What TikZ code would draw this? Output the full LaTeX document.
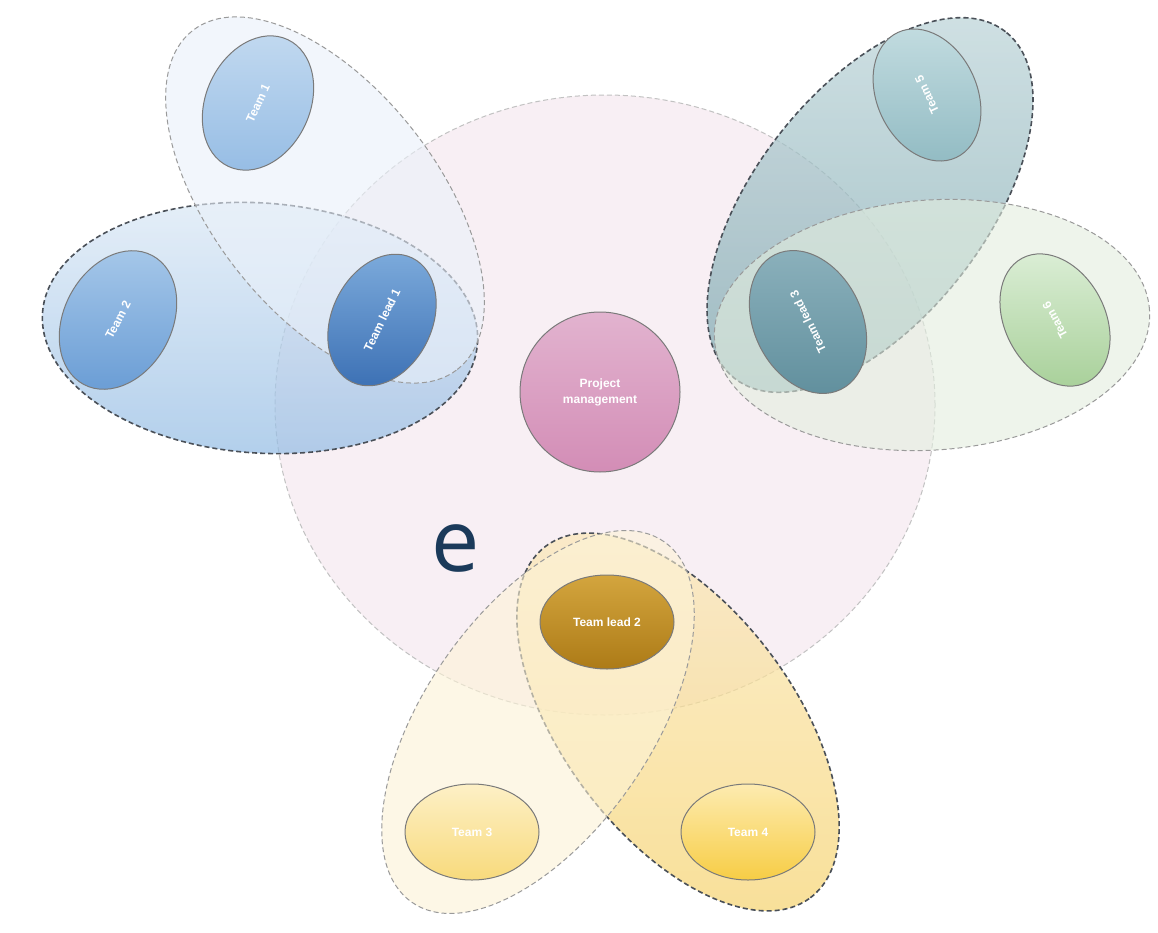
\documentclass[tikz,border=0pt]{standalone}
\usepackage{fontspec}
\setmainfont{Liberation Sans}
\newfontfamily\bigfont{Open Sans}
\usetikzlibrary{shapes.geometric}
\definecolor{pinkbg}{HTML}{F8EFF4}
\definecolor{dashgray}{HTML}{9A9A9A}
\definecolor{darkdash}{HTML}{4A5058}
\definecolor{navy}{HTML}{1B3A5A}
\definecolor{memb}{HTML}{7A7A7A}
% group fills
\definecolor{bBtop}{HTML}{DCE9F6}
\definecolor{bBbot}{HTML}{93BCE4}
\definecolor{bA}{HTML}{EAF1FA}
\definecolor{tCtop}{HTML}{BFD6DA}
\definecolor{tCbot}{HTML}{7AA6AE}
\definecolor{gD}{HTML}{E3EEDF}
\definecolor{yFtop}{HTML}{FBE9BC}
\definecolor{yFbot}{HTML}{F6D26A}
\definecolor{yE}{HTML}{FDF3D6}
% members
\definecolor{pmtop}{HTML}{E2B3CF}
\definecolor{pmbot}{HTML}{D38DB6}
\definecolor{t1top}{HTML}{C3DAF0}
\definecolor{t1bot}{HTML}{98BEE5}
\definecolor{t2top}{HTML}{A8C9EA}
\definecolor{t2bot}{HTML}{6D9FD6}
\definecolor{tl1top}{HTML}{7FADDD}
\definecolor{tl1bot}{HTML}{3F73B6}
\definecolor{t5top}{HTML}{C4DDE1}
\definecolor{t5bot}{HTML}{90BAC2}
\definecolor{tl3top}{HTML}{8DB2BD}
\definecolor{tl3bot}{HTML}{5F8E9C}
\definecolor{t6top}{HTML}{DDEFD8}
\definecolor{t6bot}{HTML}{A6CF97}
\definecolor{tl2top}{HTML}{D3A53E}
\definecolor{tl2bot}{HTML}{AD7B17}
\definecolor{t3top}{HTML}{FDF0C6}
\definecolor{t3bot}{HTML}{F8DA7C}
\definecolor{t4top}{HTML}{FDEBB0}
\definecolor{t4bot}{HTML}{F7CD45}
\tikzset{
  grp/.style={ellipse, draw=dashgray, line width=1pt, dash pattern=on 5pt off 3pt, fill opacity=0.6, draw opacity=1, inner sep=0pt},
  grpdark/.style={ellipse, draw=darkdash, line width=1.6pt, dash pattern=on 5pt off 3pt, fill opacity=0.7, draw opacity=1, inner sep=0pt},
  member/.style={ellipse, draw=memb, line width=1pt, inner sep=0pt, text=white, font=\fontsize{12}{16}\selectfont\bfseries, align=center},
}
\begin{document}
\begin{tikzpicture}[x=1pt,y=-1pt]
\useasboundingbox (0,0) rectangle (1158,933);
\fill[white] (0,0) rectangle (1158,933);
% big background circle
\node[ellipse, draw=dashgray!60, line width=1pt, dash pattern=on 5pt off 3pt, fill=pinkbg, minimum width=660pt, minimum height=620pt, inner sep=0pt] (bg) at (605,405) {};

% blue group
\node[grpdark, top color=bBtop, bottom color=bBbot, minimum width=436pt, minimum height=250pt, rotate=-4] (gB) at (260,328) {};
\node[grp, fill=bA, minimum width=430pt, minimum height=225pt, rotate=-52] (gA) at (325,200) {};

% teal / green group
\node[grpdark, top color=tCtop, bottom color=tCbot, minimum width=440pt, minimum height=230pt, rotate=52] (gC) at (870,205) {};
\node[grp, fill=gD, minimum width=436pt, minimum height=250pt, rotate=4] (gD) at (932,325) {};

% yellow group
\node[grpdark, top color=yFtop, bottom color=yFbot, minimum width=440pt, minimum height=230pt, rotate=-53] (gF) at (678,722) {};
\node[grp, fill=yE, minimum width=440pt, minimum height=225pt, rotate=55] (gE) at (538,722) {};

% center
\node[member, circle, top color=pmtop, bottom color=pmbot, minimum size=160pt] (pm) at (600,392) {Project\\management};

% blue members
\node[member, top color=t1top, bottom color=t1bot, minimum width=140pt, minimum height=104pt, rotate=65] (t1) at (258,103) {Team 1};
\node[member, top color=t2top, bottom color=t2bot, minimum width=146pt, minimum height=108pt, rotate=62] (t2) at (118,320) {Team 2};
\node[member, top color=tl1top, bottom color=tl1bot, minimum width=138pt, minimum height=100pt, rotate=64] (tl1) at (382,320) {Team lead 1};

% teal/green members
\node[member, top color=t5top, bottom color=t5bot, minimum width=138pt, minimum height=100pt, rotate=115] (t5) at (927,95) {Team 5};
\node[member, top color=tl3top, bottom color=tl3bot, minimum width=150pt, minimum height=108pt, rotate=116] (tl3) at (808,322) {Team lead 3};
\node[member, top color=t6top, bottom color=t6bot, minimum width=140pt, minimum height=100pt, rotate=118] (t6) at (1055,320) {Team 6};

% yellow members
\node[member, top color=tl2top, bottom color=tl2bot, minimum width=134pt, minimum height=94pt] (tl2) at (607,622) {Team lead 2};
\node[member, top color=t3top, bottom color=t3bot, minimum width=134pt, minimum height=96pt] (t3) at (472,832) {Team 3};
\node[member, top color=t4top, bottom color=t4bot, minimum width=134pt, minimum height=96pt] (t4) at (748,832) {Team 4};

% stray title letter
\node[text=navy, font=\bigfont\fontsize{86}{90}\selectfont, inner sep=0pt] (etxt) at (456,548) {e};
\end{tikzpicture}
\end{document}
